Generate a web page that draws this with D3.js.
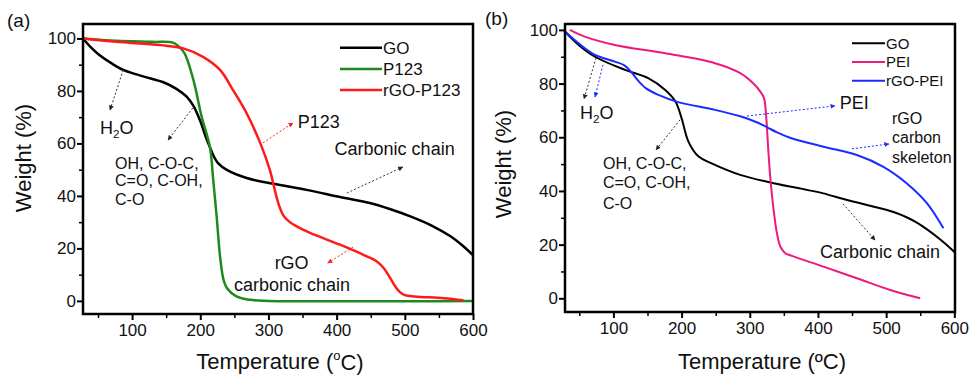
<!DOCTYPE html>
<html>
<head>
<meta charset="utf-8">
<script src="https://cdn.jsdelivr.net/npm/d3@7"></script>
<style>
  body { margin: 0; background: #fff; }
  svg text { font-family: "Liberation Sans", Arial, sans-serif; fill: #111; }
</style>
</head>
<body>
<div id="chart"></div>
<script>
// panel (a) - TGA of GO, P123, rGO-P123
var goTempA = [28, 40, 52, 70, 87, 110, 126, 145, 165, 180, 190, 200, 208, 214, 220, 226, 239, 268, 307, 356, 405, 450, 478, 510, 540, 567, 585, 600];
var goWtA   = [100, 96.5, 93.7, 90.5, 88, 86, 84.8, 83.4, 80.8, 77.8, 74.3, 68.5, 62.5, 58.6, 55, 52.5, 49.9, 46.8, 44.6, 42.3, 39.6, 37.2, 35, 32, 28.6, 24.6, 21, 17.4];

var p123Temp = [28, 77, 130, 160, 168, 177, 190, 202, 214, 219, 224, 229, 234, 239, 253, 273, 300, 600];
var p123Wt   = [100, 99.1, 98.7, 98.4, 97, 94.3, 84.1, 70.2, 58.8, 46.1, 32.2, 17, 8.1, 4.9, 1.7, 0.4, 0, 0];

var rgoP123Temp = [28, 77, 126, 150, 175, 204, 229, 248, 268, 288, 302, 310, 316, 322, 330, 340, 361, 405, 444, 458, 468, 476, 484, 492, 500, 515, 557, 586];
var rgoP123Wt   = [100, 98.7, 97.8, 97.2, 96.2, 93, 88, 80.3, 71.5, 60.1, 49.9, 41.5, 36, 32.5, 30.3, 28.6, 25.9, 21.4, 17, 15.2, 12.8, 9.8, 6.3, 3.5, 2.2, 1.7, 1, 0.2];

// panel (b) - TGA of GO, PEI, rGO-PEI
var goTempB = [29, 49, 73, 117, 151, 176, 191, 200, 210, 225, 244, 286, 335, 384, 408, 443, 482, 500, 516, 530, 545, 560, 579, 597, 600];
var goWtB   = [99.4, 94.4, 90, 85.1, 82, 77.6, 73.3, 67.1, 58.4, 52.8, 50.3, 46, 42.9, 40.4, 39.1, 36.6, 34.1, 33, 31.7, 30.2, 28.2, 25.7, 22, 18, 17.2];

var peiTemp = [36, 58, 102, 176, 249, 286, 305, 316, 321, 324, 327, 330, 335, 340, 345, 352, 362, 408, 457, 506, 550];
var peiWt   = [100, 97.5, 94.4, 91.3, 87.6, 83.9, 80.1, 76.8, 74.5, 68, 56, 45.3, 32.9, 24, 19.2, 16.8, 15.8, 11.8, 7.5, 3.1, 0];

var rgoPeiTemp = [29, 49, 73, 102, 116, 126, 136, 148, 166, 195, 249, 286, 298, 312, 325, 340, 359, 408, 457, 496, 530, 560, 584];
var rgoPeiWt   = [99.4, 95, 90.7, 88.2, 86.8, 84.4, 81.2, 78.2, 75.8, 73.1, 70.2, 67.8, 66.8, 65.4, 63.8, 61.8, 59.8, 56.5, 53.4, 49, 42.9, 35.4, 26.1];

var xMajor = [100, 200, 300, 400, 500, 600];
var xMinor = [50, 150, 250, 350, 450, 550];
var yMajor = [0, 20, 40, 60, 80, 100];
var yMinor = [10, 30, 50, 70, 90];

var svg = d3.select("#chart").append("svg")
  .attr("width", 973)
  .attr("height", 376);

// arrow heads for the dashed pointers
var defs = svg.append("defs");
[["k", "#222"], ["r", "#ff2020"], ["b", "#1a2cff"]].forEach(function(m) {
  defs.append("marker")
    .attr("id", "arr-" + m[0])
    .attr("viewBox", "0 0 10 10")
    .attr("refX", 9).attr("refY", 5)
    .attr("markerWidth", 5).attr("markerHeight", 5)
    .attr("orient", "auto")
    .append("path")
    .attr("d", "M0,0 L10,5 L0,10 z")
    .attr("fill", m[1]);
});

function drawPanel(p) {
  var x = d3.scaleLinear().domain(p.xDomain).range([p.left, p.right]);
  var y = d3.scaleLinear().domain(p.yDomain).range([p.bottom, p.top]);
  var g = svg.append("g");

  // minor ticks first
  g.append("g")
    .attr("transform", `translate(0, ${p.bottom})`)
    .call(d3.axisBottom(x).tickValues(xMinor).tickSize(4).tickFormat(""))
    .call(a => a.select(".domain").remove())
    .selectAll("line").attr("stroke-width", 1.5);
  g.append("g")
    .attr("transform", `translate(${p.left}, 0)`)
    .call(d3.axisLeft(y).tickValues(yMinor).tickSize(4).tickFormat(""))
    .call(a => a.select(".domain").remove())
    .selectAll("line").attr("stroke-width", 1.5);

  var xAxis = g.append("g")
    .attr("transform", `translate(0, ${p.bottom})`)
    .call(d3.axisBottom(x).tickValues(xMajor).tickSize(6).tickPadding(4));
  xAxis.select(".domain").remove();
  xAxis.selectAll("line").attr("stroke-width", 2);
  xAxis.selectAll("text").attr("font-size", 17).attr("font-family", "Liberation Sans, Arial");

  var yAxis = g.append("g")
    .attr("transform", `translate(${p.left}, 0)`)
    .call(d3.axisLeft(y).tickValues(yMajor).tickSize(6).tickPadding(1));
  yAxis.select(".domain").remove();
  yAxis.selectAll("line").attr("stroke-width", 2);
  yAxis.selectAll("text").attr("font-size", 17).attr("font-family", "Liberation Sans, Arial");

  // curves
  var line = d3.line()
    .x(d => x(d[0]))
    .y(d => y(d[1]))
    .curve(d3.curveCatmullRom.alpha(0.5));

  p.series.forEach(function(s) {
    g.append("path")
      .datum(d3.zip(s.t, s.w))
      .attr("fill", "none")
      .attr("stroke", s.color)
      .attr("stroke-width", p.lineWidth)
      .attr("stroke-linejoin", "round")
      .attr("d", line);
  });

  // frame
  g.append("rect")
    .attr("x", p.left).attr("y", p.top)
    .attr("width", p.right - p.left)
    .attr("height", p.bottom - p.top)
    .attr("fill", "none")
    .attr("stroke", "#000")
    .attr("stroke-width", 2.5);

  // legend
  p.series.forEach(function(s, i) {
    var ly = p.legend.y + i * p.legend.step;
    g.append("line")
      .attr("x1", p.legend.x).attr("x2", p.legend.x + p.legend.len)
      .attr("y1", ly).attr("y2", ly)
      .attr("stroke", s.color)
      .attr("stroke-width", p.lineWidth);
    g.append("text")
      .attr("x", p.legend.x + p.legend.len + 1)
      .attr("y", ly)
      .attr("dy", "0.36em")
      .attr("font-size", p.legend.size)
      .text(s.name);
  });

  // annotation texts
  p.notes.forEach(function(n) {
    var t = g.append("text")
      .attr("x", x(n.at[0]))
      .attr("y", y(n.at[1]))
      .attr("dy", "0.36em")
      .attr("font-size", n.size)
      .attr("text-anchor", n.anchor || "start");
    if (n.sub) {
      t.append("tspan").text("H");
      t.append("tspan").attr("font-size", n.size * 0.65).attr("dy", "0.3em").text("2");
      t.append("tspan").attr("dy", "-0.2em").text("O");
    } else {
      t.text(n.text);
    }
  });

  // dashed pointers
  p.arrows.forEach(function(a) {
    g.append("line")
      .attr("x1", x(a.from[0])).attr("y1", y(a.from[1]))
      .attr("x2", x(a.to[0])).attr("y2", y(a.to[1]))
      .attr("stroke", a.color)
      .attr("stroke-width", 1)
      .attr("stroke-dasharray", "2,2")
      .attr("marker-end", `url(#arr-${a.m})`);
  });

  // axis titles
  var cx = (p.left + p.right) / 2;
  var xt = g.append("text")
    .attr("x", cx + 2).attr("y", 369)
    .attr("text-anchor", "middle")
    .attr("font-size", 22);
  if (p.degSup) {
    xt.append("tspan").text("Temperature (");
    xt.append("tspan").attr("font-size", 13).attr("dy", "-0.7em").text("o");
    xt.append("tspan").attr("dy", "0.45em").text("C)");
  } else {
    xt.text("Temperature (ºC)");
  }

  g.append("text")
    .attr("transform", `translate(${p.yTitleX}, ${p.yTitleY}) rotate(-90)`)
    .attr("text-anchor", "middle")
    .attr("dy", "0.36em")
    .attr("font-size", 22)
    .text("Weight (%)");

  g.append("text")
    .attr("x", p.tag[0]).attr("y", p.tag[1])
    .attr("dy", "0.36em")
    .attr("font-size", 19)
    .text(p.tagText);
}

drawPanel({
  left: 83, right: 473, top: 24, bottom: 314,
  xDomain: [28, 600], yDomain: [-5, 105.5],
  lineWidth: 2.5,
  series: [
    { name: "GO", color: "#000", t: goTempA, w: goWtA },
    { name: "P123", color: "#1e8a1e", t: p123Temp, w: p123Wt },
    { name: "rGO-P123", color: "#ff1a1a", t: rgoP123Temp, w: rgoP123Wt }
  ],
  legend: { x: 340, y: 47.7, step: 21.2, len: 42, size: 17 },
  notes: [
    { sub: true, at: [53, 65.9], size: 18 },
    { text: "OH, C-O-C,", at: [75, 52.5], size: 16 },
    { text: "C=O, C-OH,", at: [75, 46.1], size: 16 },
    { text: "C-O", at: [75, 38.6], size: 16 },
    { text: "P123", at: [343, 68.2], size: 18 },
    { text: "Carbonic chain", at: [397, 57.9], size: 18 },
    { text: "rGO", at: [334, 14.8], size: 18, anchor: "middle" },
    { text: "carbonic chain", at: [334.5, 6.4], size: 18, anchor: "middle" }
  ],
  arrows: [
    { from: [87, 88], to: [67.6, 72.7], color: "#333", m: "k" },
    { from: [189, 73.5], to: [152.7, 61.3], color: "#333", m: "k" },
    { from: [292, 60.2], to: [336, 67.8], color: "#ff2020", m: "r" },
    { from: [415, 41.1], to: [497, 51], color: "#333", m: "k" },
    { from: [424, 20.5], to: [387, 14.4], color: "#ff2020", m: "r" }
  ],
  degSup: true,
  yTitleX: 23, yTitleY: 158,
  tag: [7, 20], tagText: "(a)"
});

drawPanel({
  left: 565, right: 955, top: 24, bottom: 312,
  xDomain: [29, 601], yDomain: [-5.1, 102.2],
  lineWidth: 2,
  series: [
    { name: "GO", color: "#000", t: goTempB, w: goWtB },
    { name: "PEI", color: "#ec1a7c", t: peiTemp, w: peiWt },
    { name: "rGO-PEI", color: "#1a2cff", t: rgoPeiTemp, w: rgoPeiWt }
  ],
  legend: { x: 852, y: 43.3, step: 18.7, len: 33, size: 15 },
  notes: [
    { sub: true, at: [51, 69.1], size: 18 },
    { text: "OH, C-O-C,", at: [84.7, 50.4], size: 16 },
    { text: "C=O, C-OH,", at: [84.7, 43.4], size: 16 },
    { text: "C-O", at: [84.7, 35.5], size: 16 },
    { text: "PEI", at: [432, 72.8], size: 18 },
    { text: "rGO", at: [508.6, 67.2], size: 16 },
    { text: "carbon", at: [508.6, 60.1], size: 16 },
    { text: "skeleton", at: [508.6, 52.7], size: 16 },
    { text: "Carbonic chain", at: [403, 17.6], size: 18 }
  ],
  arrows: [
    { from: [74.5, 89.6], to: [56.9, 74.3], color: "#333", m: "k" },
    { from: [84.7, 87], to: [73, 75], color: "#1a2cff", m: "b" },
    { from: [197.7, 66.5], to: [162.5, 55.3], color: "#333", m: "k" },
    { from: [296, 67.9], to: [425, 71.7], color: "#1a2cff", m: "b" },
    { from: [450, 55.7], to: [504, 57.5], color: "#1a2cff", m: "b" },
    { from: [436.7, 35.2], to: [483.7, 21.7], color: "#333", m: "k" }
  ],
  degSup: false,
  yTitleX: 503, yTitleY: 164,
  tag: [485, 18], tagText: "(b)"
});
</script>
</body>
</html>
